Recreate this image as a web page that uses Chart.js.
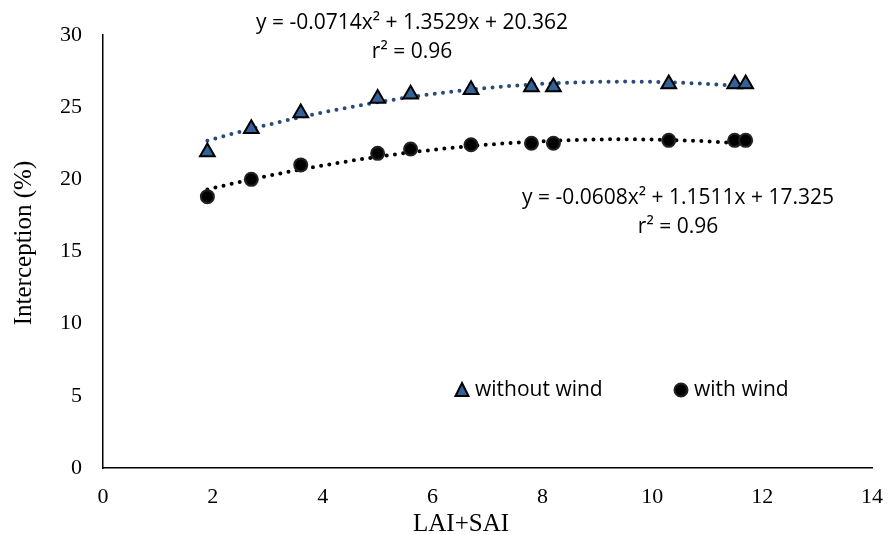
<!DOCTYPE html>
<html>
<head>
<meta charset="utf-8">
<script src="https://cdn.jsdelivr.net/npm/chart.js@4.4.1/dist/chart.umd.min.js"></script>
<style>
  html, body { margin: 0; padding: 0; background: #fff; }
  #wrap { width: 891px; height: 535px; }
</style>
</head>
<body>
<div id="wrap"><canvas id="chart" width="891" height="535"></canvas></div>
<script>
// values
const laiSai = [1.9, 2.7, 3.6, 5.0, 5.6, 6.7, 7.8, 8.2, 10.3, 11.5, 11.7];
const withoutWind = [21.9, 23.5, 24.6, 25.6, 25.9, 26.2, 26.4, 26.4, 26.6, 26.6, 26.6];
const withWind = [18.8, 20.0, 21.0, 21.8, 22.1, 22.4, 22.5, 22.5, 22.7, 22.7, 22.7];

// quadratic trendline coefficients printed on the chart (a, b, c) and r²
const fitWithout = [-0.0714, 1.3529, 20.362];
const fitWith = [-0.0608, 1.1511, 17.325];
const r2Without = '0.96';
const r2With = '0.96';

const seriesNames = ['without wind', 'with wind'];
const xTitle = 'LAI+SAI';
const yTitle = 'Interception (%)';
const xRange = [0, 14];
const yRange = [0, 30];

const toPoints = (xs, ys) => xs.map((x, i) => ({ x: x, y: ys[i] }));

// trendline drawn through the library from the printed equation
function trend(coef) {
  const pts = [];
  const x0 = laiSai[0], x1 = laiSai[laiSai.length - 1];
  for (let x = x0; x <= x1 + 1e-9; x += 0.1) {
    pts.push({ x: x, y: coef[0] * x * x + coef[1] * x + coef[2] });
  }
  return pts;
}

const eqText = (c) => 'y = ' + c[0] + 'x\u00b2 + ' + c[1] + 'x + ' + c[2];

const blueFill = '#33619a';
const blueDots = '#2c4a78';
const serif = 'Liberation Serif';

const annotations = {
  id: 'annotations',
  afterDraw(chart) {
    const ctx = chart.ctx;
    ctx.save();
    ctx.fillStyle = '#000';
    ctx.textBaseline = 'middle';
    ctx.textAlign = 'center';

    // axis titles
    ctx.font = '25px "' + serif + '"';
    ctx.fillText(xTitle, 461, 524);
    ctx.save();
    ctx.translate(24, 243);
    ctx.rotate(-Math.PI / 2);
    ctx.fillText(yTitle, 0, 0);
    ctx.restore();

    // trendline equations
    ctx.font = '21px "Open Sans"';
    ctx.fillText(eqText(fitWithout), 412, 23);
    ctx.fillText('r\u00b2 = ' + r2Without, 412, 52);
    ctx.fillText(eqText(fitWith), 678, 198);
    ctx.fillText('r\u00b2 = ' + r2With, 678, 227);

    // legend
    ctx.textAlign = 'left';
    ctx.fillText(seriesNames[0], 475, 390);
    ctx.fillText(seriesNames[1], 694, 390);

    ctx.lineWidth = 2;
    ctx.strokeStyle = '#000';
    ctx.fillStyle = blueFill;
    ctx.beginPath();
    ctx.moveTo(462, 383);
    ctx.lineTo(468.5, 396);
    ctx.lineTo(455.5, 396);
    ctx.closePath();
    ctx.fill();
    ctx.stroke();

    ctx.fillStyle = '#000';
    ctx.strokeStyle = '#222';
    ctx.beginPath();
    ctx.arc(681, 390, 6.5, 0, Math.PI * 2);
    ctx.fill();
    ctx.stroke();
    ctx.restore();
  }
};

new Chart(document.getElementById('chart'), {
  type: 'scatter',
  data: {
    datasets: [
      {
        label: seriesNames[0],
        data: toPoints(laiSai, withoutWind),
        pointStyle: 'triangle',
        pointRadius: 8.5,
        backgroundColor: blueFill,
        borderColor: '#000',
        borderWidth: 2,
        order: 1,
      },
      {
        label: seriesNames[1],
        data: toPoints(laiSai, withWind),
        pointStyle: 'circle',
        pointRadius: 6.5,
        backgroundColor: '#000',
        borderColor: '#222',
        borderWidth: 2,
        order: 1,
      },
      {
        label: 'trend without',
        data: trend(fitWithout),
        showLine: true,
        pointRadius: 0,
        borderColor: blueDots,
        borderWidth: 4,
        borderDash: [0, 8.3],
        borderCapStyle: 'round',
        tension: 0,
        order: 2,
      },
      {
        label: 'trend with',
        data: trend(fitWith),
        showLine: true,
        pointRadius: 0,
        borderColor: '#000',
        borderWidth: 4,
        borderDash: [0, 8.3],
        borderCapStyle: 'round',
        tension: 0,
        order: 2,
      },
    ],
  },
  options: {
    responsive: false,
    animation: false,
    layout: { padding: { top: 35, right: 16, left: 0, bottom: 0 } },
    plugins: {
      legend: { display: false },
      tooltip: { enabled: false },
    },
    scales: {
      x: {
        type: 'linear',
        min: xRange[0],
        max: xRange[1],
        ticks: { stepSize: 2, color: '#000', font: { family: serif, size: 22 }, padding: 8, maxRotation: 0 },
        grid: { display: false },
        border: { display: true, color: '#000', width: 1.5 },
        afterFit: (s) => { s.height = 67; },
      },
      y: {
        min: yRange[0],
        max: yRange[1],
        ticks: { stepSize: 5, color: '#000', font: { family: serif, size: 22 }, padding: 13 },
        grid: { display: false },
        border: { display: true, color: '#000', width: 1.5 },
        afterFit: (s) => { s.width = 103; },
      },
    },
  },
  plugins: [annotations],
});
</script>
</body>
</html>
